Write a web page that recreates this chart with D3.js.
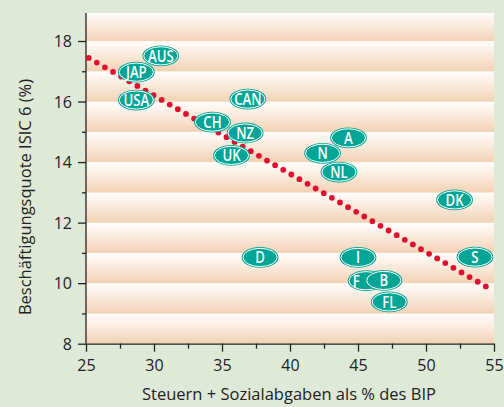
<!DOCTYPE html>
<html><head><meta charset="utf-8">
<script src="https://cdn.jsdelivr.net/npm/d3@7"></script>
<style>
html,body{margin:0;padding:0;background:#dfe9d8;}
svg{display:block;}
</style></head>
<body>
<svg id="chart" width="504" height="407"></svg>
<script>
// ---- data ----
const countries = ["AUS","JAP","USA","CAN","CH","UK","NZ","D","N","A","NL","DK","I","S","F","B","FL"];
const taxShare  = [30.5, 28.7, 28.7, 36.9, 34.3, 35.7, 36.7, 37.8, 42.4, 44.3, 43.6, 52.1, 45.0, 53.6, 45.6, 46.9, 47.3];
const employment= [17.51,16.97,16.05,16.08,15.32,14.22,14.96,10.85,14.29,14.80,13.67,12.75,10.85,10.86,10.08,10.09,9.38];
const trendX = [25.2, 54.6];
const trendY = [17.44, 9.84];
const xTicks = [25,30,35,40,45,50,55];
const yTicks = [8,10,12,14,16,18];
const xTitle = "Steuern + Sozialabgaben als % des BIP";
const yTitle = "Beschäftigungsquote ISIC 6 (%)";

(function(){
const svg = d3.select("#chart");
const W = 504, H = 407;
const pLeft = 86, pRight = 494, pTop = 13, pBottom = 343.7;
const x = d3.scaleLinear().domain([25,55]).range([pLeft,pRight]);
const y = d3.scaleLinear().domain([8,18]).range([pBottom,41]);
const yMax = y.invert(pTop);

svg.append("rect").attr("width",W).attr("height",H).attr("fill","#dfe9d8");

// gradient bands
const defs = svg.append("defs");
const g = defs.append("linearGradient").attr("id","band").attr("x1",0).attr("y1",0).attr("x2",0).attr("y2",1);
g.append("stop").attr("offset","0%").attr("stop-color","#fffdfb");
g.append("stop").attr("offset","35%").attr("stop-color","#fcefe4");
g.append("stop").attr("offset","100%").attr("stop-color","#f2d2b4");

const bandStarts = d3.range(8, 19, 1);
svg.append("g").selectAll("rect").data(bandStarts).join("rect")
  .attr("x", pLeft).attr("width", pRight-pLeft)
  .attr("y", d => y(Math.min(d+1, yMax)))
  .attr("height", d => y(d) - y(Math.min(d+1, yMax)))
  .attr("fill","url(#band)");

// axes
const font = "'Open Sans', Lato, sans-serif";
const xAxis = svg.append("g").attr("transform",`translate(0,${pBottom})`)
  .call(d3.axisBottom(x).tickValues(xTicks).tickSize(8).tickSizeOuter(0).tickFormat(d3.format("d")));
svg.append("g").attr("transform",`translate(0,${pBottom})`)
  .call(d3.axisBottom(x).tickValues(d3.range(27.5,55,5)).tickSize(5).tickSizeOuter(0).tickFormat(""))
  .call(s=>s.select(".domain").remove());
const yAxis = svg.append("g").attr("transform",`translate(${pLeft},0)`)
  .call(d3.axisLeft(y).tickValues(yTicks).tickSize(8).tickSizeOuter(0).tickFormat(d3.format("d")));
svg.append("g").attr("transform",`translate(${pLeft},0)`)
  .call(d3.axisLeft(y).tickValues(d3.range(9,19,2)).tickSize(4).tickSizeOuter(0).tickFormat(""))
  .call(s=>s.select(".domain").remove());
yAxis.select(".domain").attr("d",`M0,${pTop}V${pBottom}`);
svg.selectAll(".domain, .tick line").attr("stroke","#222").attr("stroke-width",1.3);
xAxis.selectAll("text").attr("font-family",font).attr("font-size",16).attr("fill","#222").attr("dy","1.0em").attr("y",11);
yAxis.selectAll("text").attr("font-family",font).attr("font-size",16).attr("fill","#222").attr("x",-14).attr("dy","0.36em");

svg.append("text").attr("x",289).attr("y",400).attr("text-anchor","middle")
  .attr("font-family",font).attr("font-size",16.5).attr("fill","#222").text(xTitle);
svg.append("text").attr("transform","translate(31,197) rotate(-90)").attr("text-anchor","middle")
  .attr("font-family",font).attr("font-size",16.5).attr("fill","#222").text(yTitle);

// trend dots
svg.append("line")
  .attr("x1",x(trendX[0])).attr("y1",y(trendY[0]))
  .attr("x2",x(trendX[1])).attr("y2",y(trendY[1]))
  .attr("stroke","#e0102f").attr("stroke-width",5.8).attr("stroke-linecap","round")
  .attr("stroke-dasharray","0 9.35");

// labels
const teal = "#00a596";
const textNudge = {F: -10};
const pts = countries.map((c,i)=>({c, x:taxShare[i], y:employment[i]}));
const labG = svg.append("g").selectAll("g").data(pts).join("g")
  .attr("transform", d=>`translate(${x(d.x)},${y(d.y)})`);
labG.append("ellipse").attr("rx",18.4).attr("ry",10.4).attr("fill",teal);
labG.append("ellipse").attr("rx",17.1).attr("ry",9.1).attr("fill",teal).attr("stroke","#fff").attr("stroke-width",1);
labG.append("text").attr("text-anchor","middle").attr("dy","0.36em")
  .attr("transform",d=>`translate(${textNudge[d.c]||0},0) scale(0.8,1)`)
  .attr("font-family","'Open Sans', 'DejaVu Sans Condensed', sans-serif")
  .attr("font-weight",600)
  .attr("font-size",16.5).attr("fill","#fff").text(d=>d.c);
})();
</script>
</body></html>
